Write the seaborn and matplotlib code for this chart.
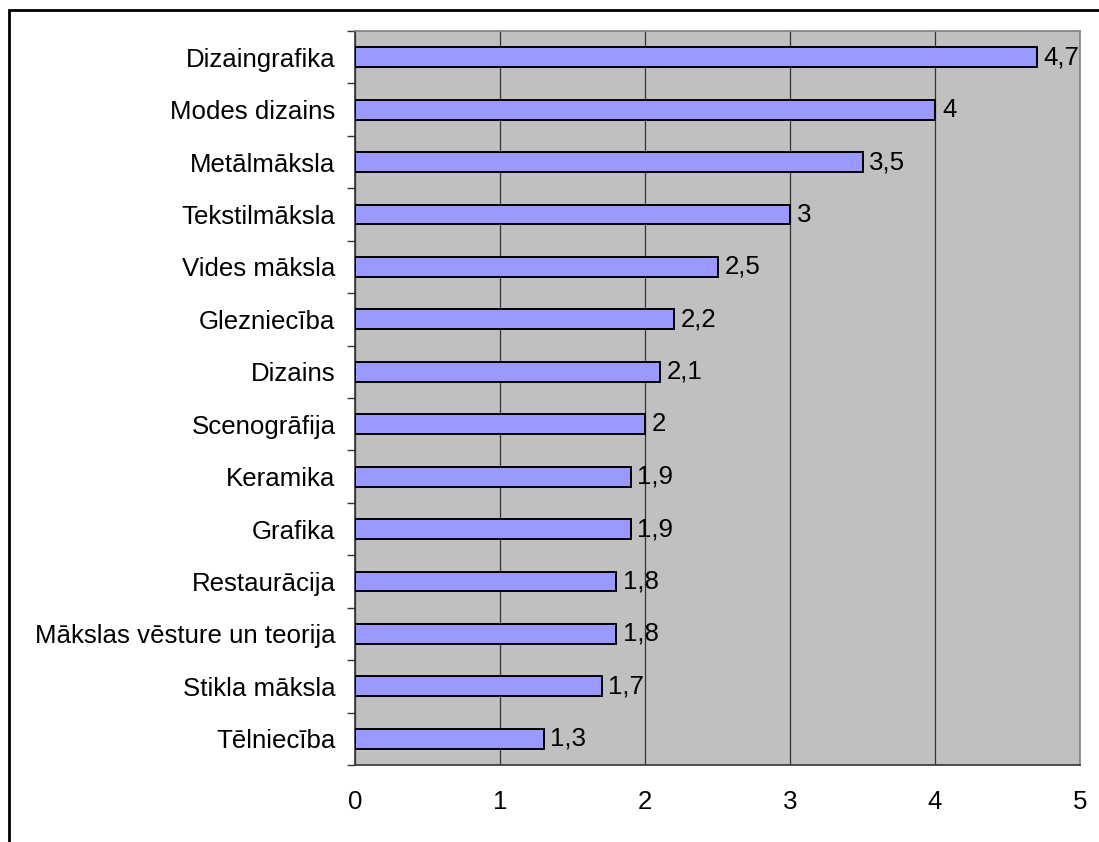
import matplotlib
matplotlib.use('Agg')
import matplotlib.pyplot as plt
import seaborn as sns
import pandas as pd
import numpy as np
from matplotlib.patches import Rectangle
from matplotlib.ticker import FixedLocator

nozares = ['Dizaingrafika', 'Modes dizains', 'Metālmāksla', 'Tekstilmāksla',
           'Vides māksla', 'Glezniecība', 'Dizains', 'Scenogrāfija', 'Keramika',
           'Grafika', 'Restaurācija', 'Mākslas vēsture un teorija',
           'Stikla māksla', 'Tēlniecība']
vertibas = [4.7, 4.0, 3.5, 3.0, 2.5, 2.2, 2.1, 2.0, 1.9, 1.9, 1.8, 1.8, 1.7, 1.3]

df = pd.DataFrame({'nozare': nozares, 'vertiba': vertibas})

sns.set_style('white')
plt.rcParams['font.family'] = ['Liberation Sans', 'DejaVu Sans']
plt.rcParams['text.color'] = 'black'
plt.rcParams['xtick.labelcolor'] = 'black'
plt.rcParams['ytick.labelcolor'] = 'black'

fs = 18.6

fig = plt.figure(figsize=(10.99, 8.42), dpi=100)
ax = fig.add_axes([355 / 1099, 1 - 765 / 842, 725 / 1099, 734 / 842])
ax.set_facecolor('#C0C0C0')

sns.barplot(data=df, x='vertiba', y='nozare', orient='h', color='#9999FF',
            saturation=1, width=0.38, edgecolor='black', linewidth=1.4, ax=ax,
            zorder=3)

ax.set_xlim(0, 5)
ax.set_ylim(len(nozares) - 0.5, -0.5)
ax.set_xticks(range(6))
ax.grid(axis='x', color='#333333', linewidth=0.9, zorder=0)
ax.grid(axis='y', visible=False)
ax.set_axisbelow(True)

ax.set_xlabel('')
ax.set_ylabel('')
ax.tick_params(axis='y', which='major', length=0, pad=14, labelsize=fs)
ax.tick_params(axis='x', which='major', length=5, width=1, direction='out',
               pad=13, labelsize=fs, color='#333333')
ax.yaxis.set_minor_locator(FixedLocator(np.arange(-0.5, len(nozares), 1)))
ax.tick_params(axis='y', which='minor', length=6, width=1, direction='out',
               color='#333333', left=True)

for side in ['left', 'bottom']:
    ax.spines[side].set_color('#333333')
    ax.spines[side].set_linewidth(1.2)
for side in ['top', 'right']:
    ax.spines[side].set_color('#808080')
    ax.spines[side].set_linewidth(1.2)

etiketes = [('%g' % v).replace('.', ',') for v in vertibas]
ax.bar_label(ax.containers[0], labels=etiketes, padding=5, fontsize=fs,
             color='black')

fig.patches.append(Rectangle((9 / 1099, -0.1), 1.2, 1 - 10 / 842 + 0.1,
                             transform=fig.transFigure, fill=False,
                             edgecolor='black', linewidth=2))

fig.savefig('out.png', dpi=100)
